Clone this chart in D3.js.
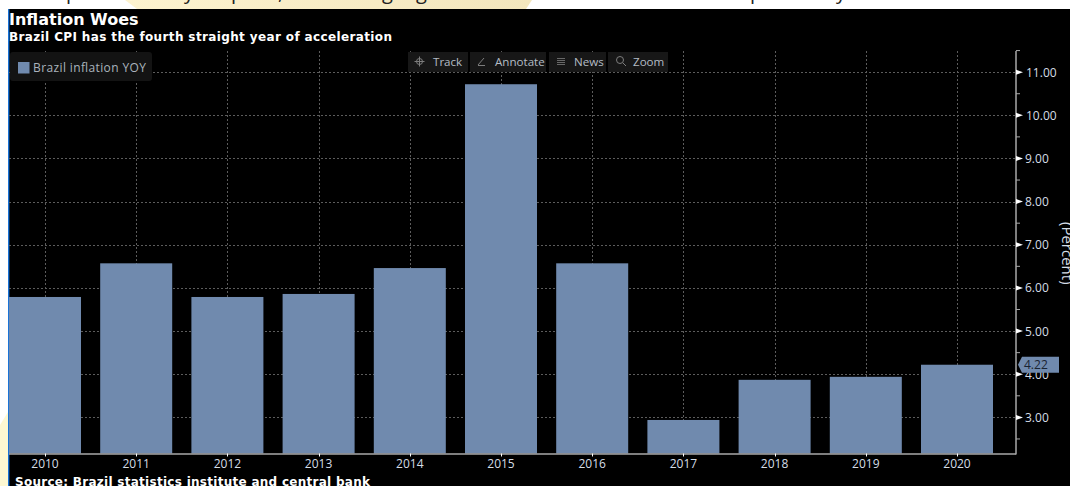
<!DOCTYPE html>
<html>
<head>
<meta charset="utf-8">
<script src="https://cdn.jsdelivr.net/npm/d3@7"></script>
<style>
html,body{margin:0;padding:0;background:#fff;overflow:hidden}
svg{display:block}
text{font-family:"Open Sans",Roboto,sans-serif}
</style>
</head>
<body>
<svg id="chart" width="1070" height="486"></svg>
<script>
// Brazil annual CPI, percent
const years = ["2010","2011","2012","2013","2014","2015","2016","2017","2018","2019","2020"];
const inflation = [5.79,6.57,5.79,5.86,6.46,10.72,6.57,2.94,3.87,3.94,4.22];
const majorTicks = [3,4,5,6,7,8,9,10,11];
const minorTicks = [2.5,3.5,4.5,5.5,6.5,7.5,8.5,9.5,10.5,11.5];
const toolbarItems = ["Track","Annotate","News","Zoom"];
const seriesName = "Brazil inflation YOY";
const headline = "Inflation Woes";
const subhead = "Brazil CPI has the fourth straight year of acceleration";
const sourceNote = "Source: Brazil statistics institute and central bank";
const axisTitle = "(Percent)";
const lastValueLabel = "4.22";
// Descenders of the article line cropped off above the chart
const articleGlyphs = [["p",66],["y",184],["p",231],[",",278],["g",382],["g",416],["p",750],["y",836]];

const BAR = "#708aae", GRID = "#5c5c5c", AXIS = "#a9a9a9", LABEL = "#d5dde6";
const plot = {left:9, right:1016, top:51, bottom:453.5};

const svg = d3.select("#chart");
const defs = svg.append("defs");
const cream = defs.append("linearGradient").attr("id","cream").attr("x1",0).attr("x2",1);
cream.append("stop").attr("offset",0).attr("stop-color","#fdf3cf");
cream.append("stop").attr("offset",1).attr("stop-color","#f3e6bd");

// Page behind the terminal screenshot
svg.append("path").attr("fill","url(#cream)").attr("d","M125 0L532 0L526 9L137 9Z");
svg.append("path").attr("fill","#fdf8d2").attr("d","M0 486L0 425L8 412L8 486Z");
svg.selectAll(".article").data(articleGlyphs).join("text")
  .attr("class","article").attr("x",d=>d[1]).attr("y",-1)
  .attr("font-size",20).attr("fill","#222").text(d=>d[0]);

// Terminal panel
svg.append("rect").attr("x",8).attr("y",9).attr("width",1062).attr("height",477).attr("fill","#000");
svg.append("rect").attr("x",8).attr("y",9).attr("width",1.4).attr("height",477).attr("fill","#1a73d6");

const x = d3.scaleBand().domain(years).range([-0.6,1002.6]).paddingInner(19.2/91.2).paddingOuter(9.6/91.2);
const y = d3.scaleLinear().domain([2.163,11.49]).range([plot.bottom,plot.top]);
const cx = d => x(d)+x.bandwidth()/2;

// Dotted grid
const grid = svg.append("g").attr("stroke",GRID).attr("stroke-width",1).attr("stroke-dasharray","2 2");
grid.selectAll(".h").data(majorTicks).join("line").attr("class","h")
  .attr("x1",plot.left).attr("x2",plot.right)
  .attr("y1",d=>Math.round(y(d))+.5).attr("y2",d=>Math.round(y(d))+.5);
grid.selectAll(".v").data(years).join("line").attr("class","v")
  .attr("x1",d=>Math.round(cx(d))+.5).attr("x2",d=>Math.round(cx(d))+.5)
  .attr("y1",plot.top).attr("y2",plot.bottom);

// Bars
svg.selectAll(".bar").data(inflation).join("rect").attr("class","bar")
  .attr("x",(d,i)=>x(years[i])).attr("width",x.bandwidth())
  .attr("y",d=>y(d)).attr("height",d=>plot.bottom-y(d))
  .attr("fill",BAR);

// Right value axis
const yAxis = svg.append("g").attr("transform",`translate(${plot.right},0)`);
yAxis.append("line").attr("y1",plot.top).attr("y2",plot.bottom+1).attr("stroke",AXIS).attr("stroke-width",1.5);
yAxis.selectAll(".minor").data(minorTicks).join("line").attr("class","minor")
  .attr("x1",0).attr("x2",4).attr("y1",d=>y(d)).attr("y2",d=>y(d)).attr("stroke",AXIS);
yAxis.selectAll(".major").data(majorTicks).join("path").attr("class","major")
  .attr("transform",d=>`translate(0,${y(d)})`).attr("d","M0 -2.5L7 0L0 2.5Z").attr("fill","#fff");
yAxis.selectAll(".lab").data(majorTicks).join("text").attr("class","lab")
  .attr("x",d=>d>=10?10:9).attr("y",d=>y(d)+4.5)
  .attr("font-size",12).attr("fill",LABEL).text(d=>d3.format(".2f")(d));

// Bottom category axis
svg.append("line").attr("x1",plot.left).attr("x2",plot.right).attr("y1",plot.bottom+.5).attr("y2",plot.bottom+.5)
  .attr("stroke",AXIS).attr("stroke-width",1.5);
svg.selectAll(".xt").data(years).join("line").attr("class","xt")
  .attr("x1",d=>Math.round(cx(d))+.5).attr("x2",d=>Math.round(cx(d))+.5)
  .attr("y1",plot.bottom).attr("y2",plot.bottom+3).attr("stroke","#fff");
svg.selectAll(".xl").data(years).join("text").attr("class","xl")
  .attr("x",cx).attr("y",467.5).attr("text-anchor","middle")
  .attr("font-size",12).attr("fill",LABEL).text(d=>d);

// Last-value flag
const lastY = y(inflation[inflation.length-1]);
svg.append("path").attr("transform",`translate(1018,${lastY})`)
  .attr("d","M0 0L4 -8L41 -8L41 8L4 8Z").attr("fill",BAR);
svg.append("text").attr("x",1024).attr("y",lastY+4.5).attr("font-size",12).attr("fill","#1a2433").text(lastValueLabel);

// Rotated axis title, running off the right edge
svg.append("text").attr("transform","translate(1062,222) rotate(90)")
  .attr("font-size",15).attr("fill",LABEL).text(axisTitle);

// Headings
svg.append("text").attr("x",9).attr("y",25).attr("font-size",16).attr("font-weight","bold")
  .style("font-family","'DejaVu Sans'").attr("fill","#fff").text(headline);
svg.append("text").attr("x",9).attr("y",41).attr("font-size",12).attr("font-weight","bold")
  .style("font-family","'DejaVu Sans'").attr("textLength",383).attr("fill","#fff").text(subhead);
svg.append("text").attr("x",15).attr("y",486).attr("font-size",12).attr("font-weight","bold")
  .style("font-family","'DejaVu Sans'").attr("textLength",355).attr("fill","#fff").text(sourceNote);

// Legend
svg.append("rect").attr("x",10).attr("y",52).attr("width",142).attr("height",29).attr("rx",3).attr("fill","#131313");
svg.append("rect").attr("x",18).attr("y",62).attr("width",11.5).attr("height",11.5).attr("fill",BAR);
svg.append("text").attr("x",33).attr("y",72).attr("font-size",12).attr("textLength",113).attr("fill","#aab3bd").text(seriesName);

// Toolbar buttons with small glyphs
const toolX = d3.scaleOrdinal().domain(toolbarItems).range([408,470,549,608]);
const toolW = d3.scaleOrdinal().domain(toolbarItems).range([60,76,57,60]);
const toolText = d3.scaleOrdinal().domain(toolbarItems).range([433,495,574,633]);
const tools = svg.selectAll(".tool").data(toolbarItems).join("g").attr("class","tool");
tools.append("rect").attr("x",d=>toolX(d)).attr("y",52).attr("width",d=>toolW(d)).attr("height",20).attr("fill","#171717");
tools.append("text").attr("x",d=>toolText(d)).attr("y",66).attr("font-size",11.6).attr("fill","#b4bcc5").text(d=>d);
const ic = svg.append("g").attr("fill","none").attr("stroke","#7d7d7d").attr("stroke-width",1);
ic.append("circle").attr("cx",419.5).attr("cy",61.5).attr("r",3);
ic.append("path").attr("d","M419.5 56.5V66.5M414.5 61.5H424.5");
ic.append("path").attr("d","M478 65L484 58M478 65.5H485");
ic.append("g").attr("stroke-width",.8).append("path").attr("d","M557 58.5H565M557 60.5H565M557 62.5H565M557 64.5H565");
ic.append("circle").attr("cx",620).attr("cy",60).attr("r",3.5);
ic.append("path").attr("d","M623 63L626 66");
</script>
</body>
</html>
